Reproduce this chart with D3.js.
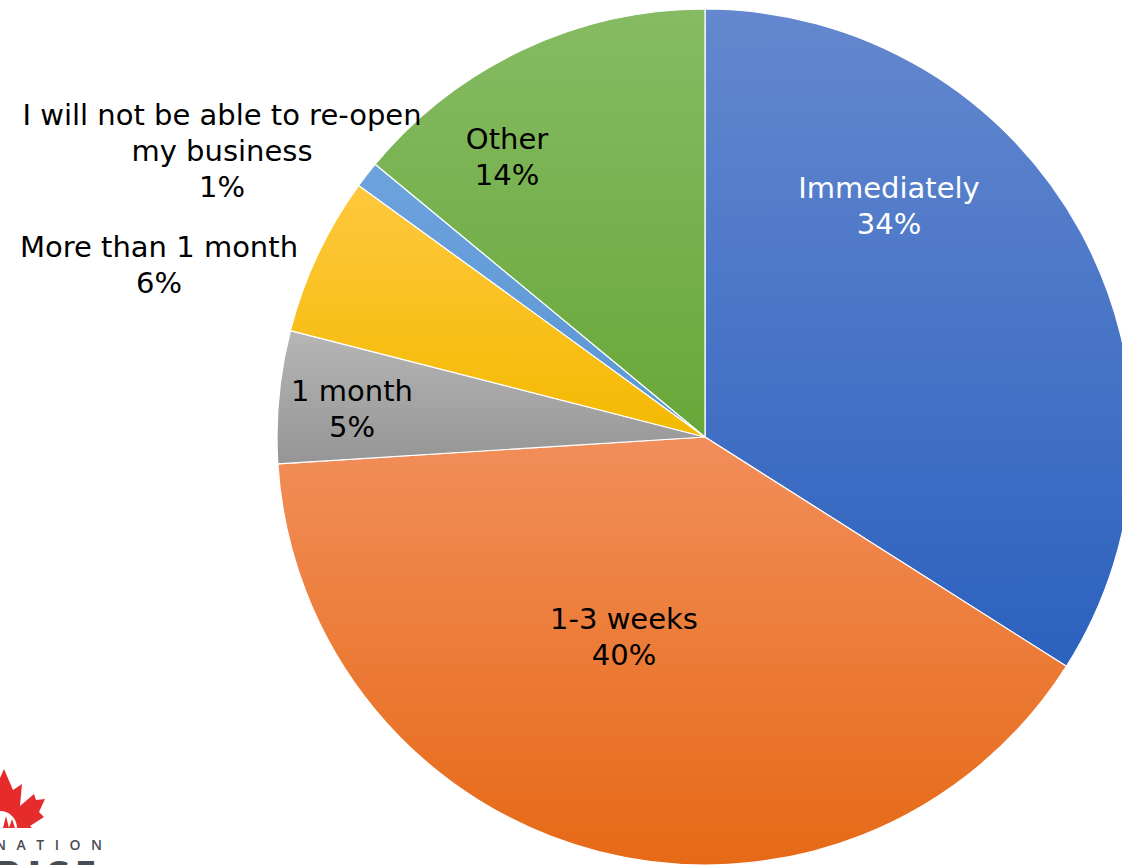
<!DOCTYPE html>
<html><head><meta charset="utf-8">
<script src="https://cdn.jsdelivr.net/npm/d3@7"></script>
<style>html,body{margin:0;padding:0;background:#fff;overflow:hidden}svg{display:block}</style>
</head><body>
<svg id="chart" width="1122" height="865"></svg>
<script>
const categories = ["Immediately","1-3 weeks","1 month","More than 1 month","I will not be able to re-open my business","Other"];
const values = [34,40,5,6,1,14];
const pctLabels = ["34%","40%","5%","6%","1%","14%"];
const labelLines = [["Immediately"],["1-3 weeks"],["1 month"],["More than 1 month"],["I will not be able to re-open","my business"],["Other"]];

// styles/layout
const colorTop = ["#6488CF","#F28E5A","#B6B6B6","#FFC83E","#6DA2DD","#86BB64"];
const colorBot = ["#2C61BE","#E66916","#959595","#F4B900","#5A97D3","#68A738"];
const labelColor = ["#ffffff","#000","#000","#000","#000","#000"];
// label centre offsets from pie centre (px)
const labelPos = [[184,-231],[-81,200],[-353,-28],[-546,-172],[-483,-286],[-198,-280]];

const svg = d3.select("#chart");
const cx = 705, cy = 437, R = 428;
const defs = svg.append("defs");
values.forEach((v,i)=>{
  const g = defs.append("linearGradient").attr("id","g"+i).attr("x1",0).attr("y1",0).attr("x2",0).attr("y2",1);
  g.append("stop").attr("offset","0%").attr("stop-color",colorTop[i]);
  g.append("stop").attr("offset","100%").attr("stop-color",colorBot[i]);
});
const pie = d3.pie().sort(null).value(d=>d);
const arc = d3.arc().innerRadius(0).outerRadius(R);
const gp = svg.append("g").attr("transform",`translate(${cx},${cy})`);
gp.selectAll("path").data(pie(values)).join("path")
  .attr("d",arc).attr("fill",(d,i)=>`url(#g${i})`)
  .attr("stroke","#fff").attr("stroke-width",1.2).attr("stroke-linejoin","round");

const fs = 29, lh = 36;
categories.forEach((c,i)=>{
  const lines = labelLines[i].concat([pctLabels[i]]);
  const [dx,dy] = labelPos[i];
  const t = gp.append("text").attr("text-anchor","middle")
    .attr("font-family","'DejaVu Sans', Verdana, sans-serif").attr("font-size",fs)
    .attr("fill",labelColor[i]);
  const y0 = dy - (lines.length-1)*lh/2 + fs*0.36;
  lines.forEach((l,k)=>t.append("tspan").attr("x",dx).attr("y",y0+k*lh).text(l));
});

// logo fragment bottom-left
const logo = svg.append("g");
logo.append("path").attr("fill","#E52B2B")
  .attr("d","M4,769 L13,790 L22,784 L20,806 L34,794 L36,800 L45,799 L39,812 L44,817 L30,826 L32,828 L0,828 L0,778 Z");
logo.append("path").attr("fill","#fff").attr("d","M0,828 L0,811 A17,17 0 0 1 17,828 Z");
logo.append("path").attr("fill","#E52B2B").attr("d","M3,828 L6,816 L9,828 Z M9,828 L12,819 L15,828 Z");
logo.append("text").attr("x",-5).attr("y",850).attr("font-family","'Open Sans', Arial, sans-serif")
  .attr("font-size",14).attr("font-weight",600).attr("letter-spacing",10.5).attr("fill","#474d55").text("NATION");
logo.append("text").attr("x",-4).attr("y",889).attr("font-family","'Open Sans', Arial, sans-serif")
  .attr("font-size",38).attr("font-weight",800).attr("letter-spacing",6).attr("fill","#474d55").text("RISE");
</script>
</body></html>
